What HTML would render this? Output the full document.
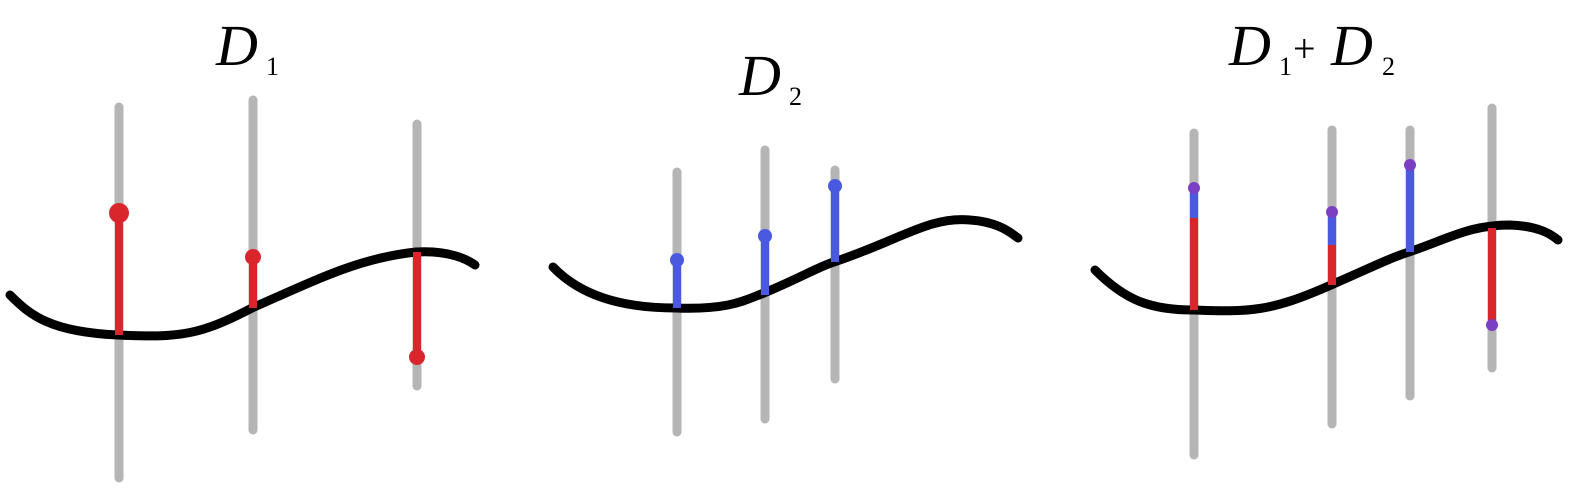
<!DOCTYPE html>
<html><head><meta charset="utf-8"><style>
html,body{margin:0;padding:0;background:#fff;}
svg{display:block}
text{font-family:"Liberation Serif",serif;fill:#000}
.it{font-style:italic}
.up{font-style:normal}
</style></head><body>
<svg id="s" width="1572" height="495" viewBox="0 0 1572 495">
<g><text class="it" x="216" y="65" font-size="58">D</text><text class="up" x="266" y="75" font-size="26">1</text></g>
<g><text class="it" x="739" y="95" font-size="58">D</text><text class="up" x="789" y="105" font-size="26">2</text></g>
<g><text class="it" x="1229" y="65" font-size="58">D</text><text class="up" x="1279" y="75" font-size="26">1</text><text class="up" x="1293" y="62" font-size="40">+</text><text class="it" x="1331" y="65" font-size="58">D</text><text class="up" x="1382" y="75" font-size="26">2</text></g>
<path d="M10,295 C30,315 50,332 118,335 C180,338 200,335 252,308 C320,278 360,258 416,252 C450,250 468,260 475,265" fill="none" stroke="#000" stroke-width="9" stroke-linecap="round"/>
<path d="M553,267 C580,295 620,308 676,308 C730,310 745,300 764,293 C800,278 820,266 834,262 C900,240 930,216 970,220 C1000,222 1012,234 1018,238" fill="none" stroke="#000" stroke-width="9" stroke-linecap="round"/>
<path d="M1095,270 C1125,300 1150,310 1193,310 C1250,312 1270,312 1331,285 C1370,268 1390,258 1409,252 C1450,238 1470,225 1510,225 C1540,226 1552,235 1558,240" fill="none" stroke="#000" stroke-width="9" stroke-linecap="round"/>
<g id="sticks"></g>
</svg>
<script>
// gray lines: [x, top, bottom]
const grayX = [119,253,417,677,765,835,1194,1332,1410,1492];
const grayTop = [107,100,124,172,150,170,133,130,130,108];
const grayBot = [478,430,386,432,419,379,455,424,396,368];
// colored segments: x, from, to, color
const segX = [119,253,417,677,765,835,1194,1194,1332,1332,1410,1492];
const segFrom = [213,257,357,260,236,186,218,188,245,212,165,325];
const segTo = [335,308,252,308,295,262,310,218,285,245,252,228];
const segColor = ["#d8262c","#d8262c","#d8262c","#4a5ae0","#4a5ae0","#4a5ae0","#d8262c","#4a5ae0","#d8262c","#4a5ae0","#4a5ae0","#d8262c"];
// dots
const dotX = [119,253,417,677,765,835,1194,1332,1410,1492];
const dotY = [213,257,357,260,236,186,188,212,165,325];
const dotColor = ["#d8262c","#d8262c","#d8262c","#4a5ae0","#4a5ae0","#4a5ae0","#7b3fc4","#7b3fc4","#7b3fc4","#7b3fc4"];
const dotR = [10,8,8,7,7,7,6,6,6,6];
const NS="http://www.w3.org/2000/svg", g=document.getElementById('sticks'), svg=document.getElementById('s');
const curves=[...svg.querySelectorAll('path')];
for(let i=0;i<grayX.length;i++){const l=document.createElementNS(NS,'line');
l.setAttribute('x1',grayX[i]);l.setAttribute('x2',grayX[i]);l.setAttribute('y1',grayTop[i]);l.setAttribute('y2',grayBot[i]);
l.setAttribute('stroke','#b5b5b5');l.setAttribute('stroke-width',9);l.setAttribute('stroke-linecap','round');


svg.insertBefore(l,curves[0]);}
for(let i=0;i<segX.length;i++){const l=document.createElementNS(NS,'line');
l.setAttribute('x1',segX[i]);l.setAttribute('x2',segX[i]);l.setAttribute('y1',segFrom[i]);l.setAttribute('y2',segTo[i]);
l.setAttribute('stroke',segColor[i]);l.setAttribute('stroke-width',8);


g.appendChild(l);}
for(let i=0;i<dotX.length;i++){const c=document.createElementNS(NS,'circle');
c.setAttribute('cx',dotX[i]);c.setAttribute('cy',dotY[i]);c.setAttribute('r',dotR[i]);c.setAttribute('fill',dotColor[i]);


g.appendChild(c);}
</script>
</body></html>
